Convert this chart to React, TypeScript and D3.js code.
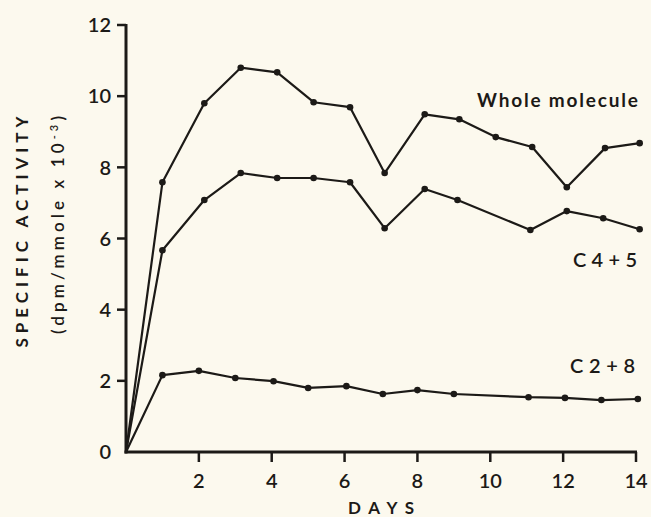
import React from 'react';
import * as d3 from 'd3';

// values
const wholeDays = [1, 2.15, 3.15, 4.15, 5.15, 6.15, 7.1, 8.2, 9.15, 10.15, 11.15, 12.1, 13.15, 14.1];
const wholeValues = [7.58, 9.8, 10.8, 10.67, 9.83, 9.69, 7.84, 9.49, 9.35, 8.85, 8.57, 7.44, 8.54, 8.68];

const c45Days = [1, 2.15, 3.15, 4.15, 5.15, 6.15, 7.1, 8.2, 9.1, 11.1, 12.1, 13.1, 14.1];
const c45Values = [5.67, 7.08, 7.84, 7.7, 7.7, 7.58, 6.29, 7.39, 7.08, 6.24, 6.77, 6.57, 6.26];

const c28Days = [1, 2, 3, 4.05, 5, 6.05, 7.05, 8, 9, 11.05, 12.05, 13.05, 14.05];
const c28Values = [2.16, 2.28, 2.08, 1.99, 1.8, 1.85, 1.63, 1.74, 1.63, 1.54, 1.52, 1.46, 1.49];

const xTicks = [2, 4, 6, 8, 10, 12, 14];
const yTicks = [0, 2, 4, 6, 8, 10, 12];

const W = 651;
const H = 517;
const ink = '#1c1a17';
const font = 'Lato, "DejaVu Sans", sans-serif';

export default function App() {
  const x = d3.scaleLinear().domain([0, 14]).range([126, 636]);
  const y = d3.scaleLinear().domain([0, 12]).range([452, 25]);

  const line = d3
    .line<[number, number]>()
    .x(d => x(d[0]))
    .y(d => y(d[1]));

  const series = [
    { days: wholeDays, values: wholeValues },
    { days: c45Days, values: c45Values },
    { days: c28Days, values: c28Values },
  ].map(s => s.days.map((d, i) => [d, s.values[i]] as [number, number]));

  return (
    <svg
      width={W}
      height={H}
      style={{ position: 'absolute', left: 0, top: 0 }}
      fontFamily={font}
    >
      <rect width={W} height={H} fill="#fcf9ee" />

      {/* axes */}
      <line x1={x(0)} x2={x(0)} y1={y(12) - 1} y2={y(0) + 1.5} stroke={ink} strokeWidth={3} />
      <line x1={x(0) - 1.5} x2={x(14) + 1} y1={y(0)} y2={y(0)} stroke={ink} strokeWidth={3} />

      {yTicks.map(t => (
        <g key={'y' + t}>
          {t > 0 && (
            <line x1={x(0) - 9} x2={x(0)} y1={y(t)} y2={y(t)} stroke={ink} strokeWidth={2.5} />
          )}
          <text
            x={x(0) - 15}
            y={y(t)}
            dy="0.36em"
            textAnchor="end"
            fontSize={20}
            fontWeight={600}
            fill={ink}
          >
            {t}
          </text>
        </g>
      ))}

      {xTicks.map(t => (
        <g key={'x' + t}>
          <line x1={x(t)} x2={x(t)} y1={y(0)} y2={y(0) + 10} stroke={ink} strokeWidth={2.5} />
          <text
            x={x(t)}
            y={488}
            textAnchor="middle"
            fontSize={20}
            fontWeight={600}
            fill={ink}
          >
            {t}
          </text>
        </g>
      ))}

      {/* data lines, all starting from the origin */}
      {series.map((pts, i) => (
        <g key={'s' + i}>
          <path
            d={line([[0, 0], ...pts]) || ''}
            fill="none"
            stroke={ink}
            strokeWidth={2.2}
            strokeLinejoin="round"
          />
          {pts.map((p, j) => (
            <circle key={j} cx={x(p[0])} cy={y(p[1])} r={3.3} fill={ink} />
          ))}
        </g>
      ))}

      {/* series labels */}
      <text x={638} y={107} textAnchor="end" fontSize={19} fontWeight={700} fill={ink} textLength={161} lengthAdjust="spacing">
        Whole molecule
      </text>
      <text x={637} y={267} textAnchor="end" fontSize={20} fontWeight={600} fill={ink} textLength={64} lengthAdjust="spacing">
        C 4 + 5
      </text>
      <text x={635} y={373} textAnchor="end" fontSize={20} fontWeight={600} fill={ink} textLength={65} lengthAdjust="spacing">
        C 2 + 8
      </text>

      {/* axis titles */}
      <text x={381} y={514} textAnchor="middle" fontSize={17} fontWeight={700} fill={ink} textLength={66} lengthAdjust="spacing">
        DAYS
      </text>
      <text
        transform="translate(28,232) rotate(-90)"
        textAnchor="middle"
        fontSize={17}
        fontWeight={700}
        fill={ink}
        textLength={231}
        lengthAdjust="spacing"
      >
        SPECIFIC ACTIVITY
      </text>
      <text
        transform="translate(64,225) rotate(-90)"
        textAnchor="middle"
        fontSize={17}
        fontWeight={600}
        fill={ink}
        textLength={218}
        lengthAdjust="spacing"
      >
        (dpm/mmole x 10
        <tspan dy={-6} fontSize={11}>-3</tspan>
        <tspan dy={6}>)</tspan>
      </text>
    </svg>
  );
}
